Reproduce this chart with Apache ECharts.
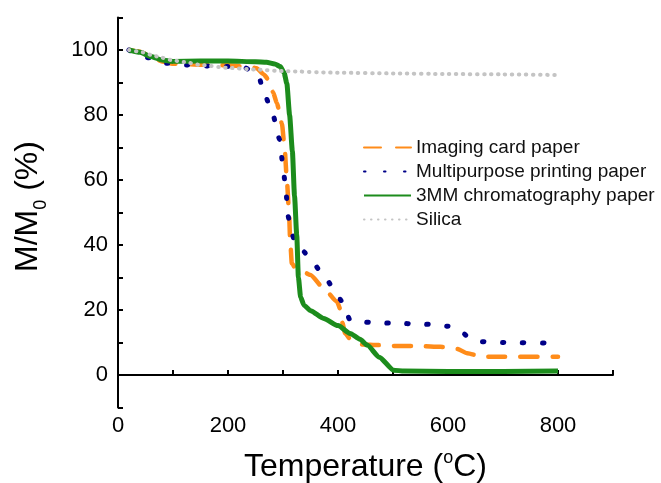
<!DOCTYPE html>
<html>
<head>
<meta charset="utf-8">
<script src="https://cdn.jsdelivr.net/npm/echarts@6/dist/echarts.min.js"></script>
<style>
  html, body { margin: 0; padding: 0; background: #fff; }
  #main { width: 661px; height: 483px; }
</style>
</head>
<body>
<div id="main"></div>
<script>
// TGA curves
var orangeT = [20,40,60,80,100,150,200,240,252,265,274,282,289,298,303,307,311,313,316,322,331,350,374,398,405,408,413,425,444,473,510,550,586,617,635,662,700,800];
var orangeM = [100,99.5,98,96.5,95.8,95.5,95.3,94.8,94.4,92.5,90.8,87,83.6,77.4,69.7,60,50,41.5,34.4,33,32.3,30.8,26.7,22.6,20,16,12.8,10.5,9.4,9.2,8.9,8.9,8.7,8,6.7,5.6,5.6,5.6];

var blueT = [20,40,56,70,89,125,162,198,228,245,256,265,280,294,299,305,309,315,322,337,353,377,404,413,422,440,465,507,547,580,600,619,640,653,700,800];
var blueM = [100,98.6,97.6,96.7,95.9,95.4,95.1,94.9,94.7,93.5,91.8,87,81,72.5,65.6,57.4,49,44,41,38,34.9,29.7,23.3,20,16.9,16.4,16.1,15.9,15.7,15.5,15,13.8,11.5,10.3,10,9.8];

var greenT = [20,40,60,80,100,150,200,250,270,285,295,302,307,312,317,321,325,328,332,338,350,374,400,422,440,453,475,501,520,600,700,800];
var greenM = [100,99.3,98,96.9,96.5,96.6,96.6,96.4,96.2,95.7,94.9,93,89.7,80,69,55,43,30,24,21.5,19.8,17.4,15.2,12.8,11,9.2,5.5,1.5,1.2,1.1,1.1,1.2];

var silicaT = [20,40,60,80,100,120,150,200,250,300,400,500,600,700,800];
var silicaM = [100,99.5,98.5,97.6,96.8,96.3,95.4,94.5,94,93.5,93,92.8,92.6,92.5,92.3];

var names = ['Imaging card paper', 'Multipurpose printing paper', '3MM chromatography paper', 'Silica'];

function pairs(xs, ys) {
  return xs.map(function (x, i) { return [x, ys[i]]; });
}

var font = 'Arial, "Liberation Sans", sans-serif';

var chart = echarts.init(document.getElementById('main'));

chart.setOption({
  animation: false,
  grid: { left: 118, right: 48, top: 17.5, bottom: 75.5, outerBoundsMode: 'none' },
  legend: {
    orient: 'vertical',
    left: 363,
    top: 138,
    padding: 0,
    itemWidth: 47,
    itemHeight: 14,
    itemGap: 5,
    itemStyle: { opacity: 0, color: 'transparent', borderWidth: 0 },
    textStyle: { fontFamily: font, fontSize: 19, color: '#111' },
    data: names
  },
  xAxis: {
    type: 'value',
    min: 0, max: 900, interval: 100,
    name: 'Temperature ({sup|o}C)',
    nameLocation: 'middle',
    nameGap: 42,
    nameTextStyle: {
      fontFamily: font, fontSize: 32, color: '#000', lineHeight: 36,
      rich: { sup: { fontFamily: font, fontSize: 18, lineHeight: 18, verticalAlign: 'top', color: '#000' } }
    },
    axisLine: { lineStyle: { color: '#000', width: 2 } },
    axisTick: { inside: true, length: 5, lineStyle: { color: '#000', width: 2 } },
    axisLabel: {
      margin: 7, fontFamily: font, fontSize: 22, color: '#000',
      formatter: function (v) { return v % 200 === 0 && v <= 800 ? String(v) : ''; }
    },
    splitLine: { show: false }
  },
  yAxis: {
    type: 'value',
    min: -10, max: 110, interval: 10,
    name: 'M/M{sub|0} (%)',
    nameLocation: 'middle',
    nameGap: 68,
    nameTextStyle: {
      fontFamily: font, fontSize: 32, color: '#000', lineHeight: 44,
      padding: [0, 0, 0, 12],
      rich: { sub: { fontFamily: font, fontSize: 18, lineHeight: 18, verticalAlign: 'bottom', color: '#000' } }
    },
    axisLine: { show: true, lineStyle: { color: '#000', width: 2 } },
    axisTick: { show: true, inside: true, length: 5, lineStyle: { color: '#000', width: 2 } },
    axisLabel: {
      margin: 10, fontFamily: font, fontSize: 22, color: '#000',
      formatter: function (v) { return v % 20 === 0 && v >= 0 && v <= 100 ? String(v) : ''; }
    },
    splitLine: { show: false }
  },
  series: [
    {
      name: names[0], type: 'line', symbol: 'none', smooth: 0.2, smoothMonotone: 'x',
      data: pairs(orangeT, orangeM),
      itemStyle: { color: '#ff8c1a' },
      lineStyle: { color: '#ff8c1a', width: 4.5, type: [17, 15], cap: 'round' }
    },
    {
      name: names[1], type: 'line', symbol: 'none', smooth: 0.2, smoothMonotone: 'x',
      data: pairs(blueT, blueM),
      itemStyle: { color: '#000088' },
      lineStyle: { color: '#000088', width: 5, type: [1.5, 18.5], cap: 'round' }
    },
    {
      name: names[2], type: 'line', symbol: 'none', smooth: 0.2, smoothMonotone: 'x',
      data: pairs(greenT, greenM),
      itemStyle: { color: '#1c8c1c' },
      lineStyle: { color: '#1c8c1c', width: 5 }
    },
    {
      name: names[3], type: 'line', symbol: 'none', smooth: 0.2, smoothMonotone: 'x',
      data: pairs(silicaT, silicaM),
      itemStyle: { color: '#c4c4c4' },
      lineStyle: { color: '#c4c4c4', width: 4, type: [0.5, 6.5], cap: 'round' }
    }
  ]
});
</script>
</body>
</html>
